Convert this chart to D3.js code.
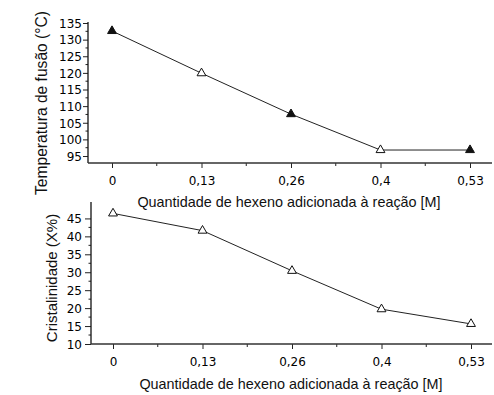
<!DOCTYPE html>
<html>
<head>
<meta charset="utf-8">
<script src="https://cdn.jsdelivr.net/npm/d3@7"></script>
<style>
  html, body { margin: 0; padding: 0; background: #fff; }
  svg { display: block; }
  text { font-family: "Liberation Sans", Arial, sans-serif; fill: #111; }
  .tick text { font-family: "DejaVu Sans", "Liberation Sans", sans-serif; fill: #000; }
</style>
</head>
<body>
<svg id="chart" width="494" height="395"></svg>
<script>
// Hexene concentration added to the reaction [M]
const categories = ["0", "0,13", "0,26", "0,4", "0,53"];
// Melting temperature (°C)
const meltTemp = [132.6, 119.9, 107.6, 96.8, 96.8];
const meltFilled = [true, false, true, false, true];
// Crystallinity (X%)
const crystallinity = [46.4, 41.6, 30.4, 19.7, 15.6];
const meltTicks = [95, 100, 105, 110, 115, 120, 125, 130, 135];
const crystTicks = [10, 15, 20, 25, 30, 35, 40, 45];

const xTitle = "Quantidade de hexeno adicionada à reação [M]";

const svg = d3.select("#chart");

function panel(opts) {
  const g = svg.append("g");
  const x = d3.scalePoint().domain(categories).range([opts.x0, opts.x1]);
  const y = d3.scaleLinear().domain(opts.yDomain).range([opts.yBottom, opts.yTop]);

  // y axis: majors with labels, minors halfway between
  const yAxis = d3.axisLeft(y).tickValues(opts.yTicks)
    .tickSize(opts.yTickSize).tickPadding(opts.yPad)
    .tickFormat(d3.format("d"));
  const ya = g.append("g").attr("transform", `translate(${opts.axisX},0)`).call(yAxis);
  ya.select(".domain").remove();
  ya.selectAll("line").attr("stroke", "#222");
  ya.selectAll("text").style("font-size", "12px").attr("dy", "0.36em");
  const step = opts.yTicks[1] - opts.yTicks[0];
  const minors = opts.yTicks.slice(0, -1).map(v => v + step / 2);
  g.selectAll(".yminor").data(minors).join("line")
    .attr("x1", opts.axisX - 2.5).attr("x2", opts.axisX)
    .attr("y1", d => y(d)).attr("y2", d => y(d)).attr("stroke", "#222");
  g.append("line")
    .attr("x1", opts.axisX).attr("x2", opts.axisX)
    .attr("y1", opts.yTop - 1).attr("y2", opts.yBottom)
    .attr("stroke", "#111").attr("stroke-width", 1.3);

  // x axis on point scale
  const xAxis = d3.axisBottom(x).tickSize(5).tickPadding(8);
  const xa = g.append("g").attr("transform", `translate(0,${opts.yBottom})`).call(xAxis);
  xa.select(".domain").remove();
  xa.selectAll("line").attr("stroke", "#222");
  xa.selectAll("text").style("font-size", "12px");
  const mids = categories.slice(0, -1).map((c, i) => (x(c) + x(categories[i + 1])) / 2);
  g.selectAll(".xminor").data(mids).join("line")
    .attr("x1", d => d).attr("x2", d => d)
    .attr("y1", opts.yBottom).attr("y2", opts.yBottom + 3).attr("stroke", "#222");
  g.append("line")
    .attr("x1", opts.axisX).attr("x2", 492)
    .attr("y1", opts.yBottom).attr("y2", opts.yBottom)
    .attr("stroke", "#333").attr("stroke-width", 1.5);

  // series line and triangle markers
  const pts = categories.map((c, i) => ({ c, v: opts.values[i], f: opts.filled ? opts.filled[i] : false }));
  g.append("path").datum(pts)
    .attr("fill", "none").attr("stroke", "#222").attr("stroke-width", 1)
    .attr("d", d3.line().x(d => x(d.c)).y(d => y(d.v)));
  const tri = d3.symbol().type(d3.symbolTriangle).size(34);
  g.selectAll(".pt").data(pts).join("path")
    .attr("transform", d => `translate(${x(d.c)},${y(d.v)})`)
    .attr("d", tri)
    .attr("fill", d => d.f ? "#111" : "#fff")
    .attr("stroke", "#111").attr("stroke-width", 1);

  // titles
  g.append("text")
    .attr("x", opts.xTitleX).attr("y", opts.xTitleY)
    .attr("text-anchor", "middle").style("font-size", "14.4px")
    .text(xTitle);
  g.append("text")
    .attr("transform", `translate(${opts.yTitleX},${opts.yTitleY}) rotate(-90)`)
    .attr("text-anchor", "middle").style("font-size", opts.yTitleSize)
    .text(opts.yTitle);
}

panel({
  x0: 112, x1: 470, axisX: 88, yTickSize: 5, yPad: 1,
  yDomain: [92.9, 135], yTop: 23, yBottom: 163,
  yTicks: meltTicks, values: meltTemp, filled: meltFilled,
  xTitleX: 289, xTitleY: 207, yTitleX: 47, yTitleY: 103,
  yTitleSize: "15.6px",
  yTitle: "Temperatura de fusão (°C)"
});

panel({
  x0: 113, x1: 471, axisX: 91, yTickSize: 6, yPad: 3,
  yDomain: [10, 49.3], yTop: 203, yBottom: 344,
  yTicks: crystTicks, values: crystallinity,
  xTitleX: 291, xTitleY: 389, yTitleX: 57, yTitleY: 278,
  yTitleSize: "15px",
  yTitle: "Cristalinidade (X%)"
});
</script>
</body>
</html>
